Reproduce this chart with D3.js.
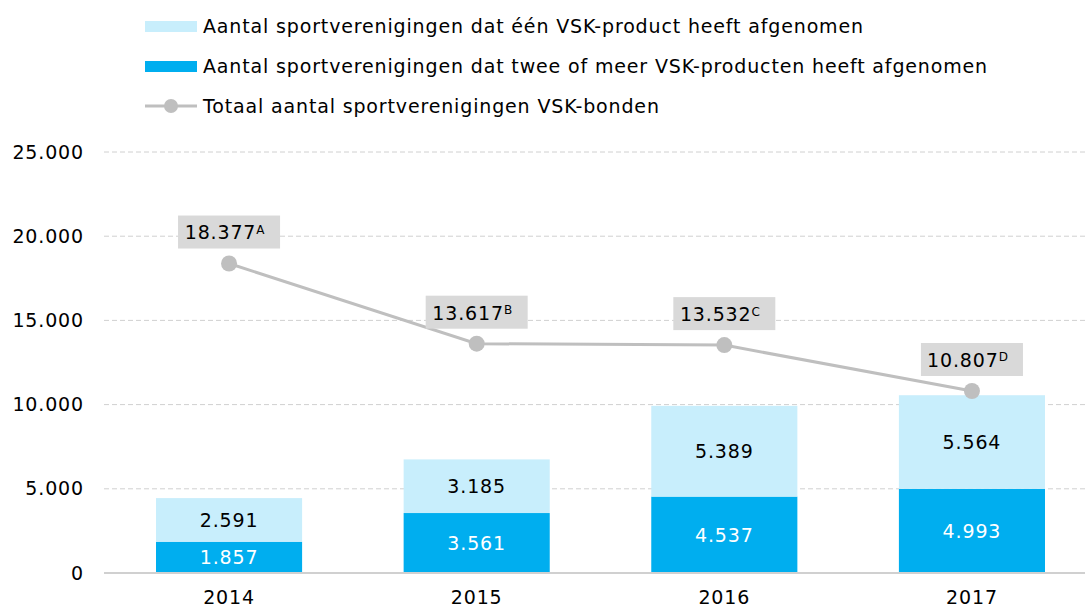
<!DOCTYPE html>
<html>
<head>
<meta charset="utf-8">
<script src="https://cdn.jsdelivr.net/npm/d3@7"></script>
<style>
  body { margin: 0; background: #fff; }
  text { font-family: "DejaVu Sans", sans-serif; letter-spacing: 0.85px; }
</style>
</head>
<body>
<div id="chart"></div>
<script>
var years = ["2014", "2015", "2016", "2017"];
var twoOrMore = [1857, 3561, 4537, 4993];
var oneProduct = [2591, 3185, 5389, 5564];
var totalBonds = [18377, 13617, 13532, 10807];
var totalNotes = ["A", "B", "C", "D"];
var yTicks = [0, 5000, 10000, 15000, 20000, 25000];
var legendLabels = [
  "Aantal sportverenigingen dat één VSK-product heeft afgenomen",
  "Aantal sportverenigingen dat twee of meer VSK-producten heeft afgenomen",
  "Totaal aantal sportverenigingen VSK-bonden"
];

var svgWidth = 1085;
var svgHeight = 609;
var margin = { top: 152, right: 0, bottom: 36, left: 104 };
var width = svgWidth - margin.left - margin.right;
var height = svgHeight - margin.top - margin.bottom;

var lightBlue = "#c8eefc";
var darkBlue = "#00aeef";
var grey = "#bfbfbf";

var fmt = d3.formatLocale({ decimal: ",", thousands: ".", grouping: [3], currency: ["", ""] }).format(",d");

var svg = d3.select("#chart").append("svg")
  .attr("width", svgWidth)
  .attr("height", svgHeight);

var chartGroup = svg.append("g")
  .attr("transform", `translate(${margin.left}, ${margin.top})`);

var x = d3.scaleBand()
  .domain(years)
  .range([0, 993])
  .paddingInner(0.41)
  .paddingOuter(0.21);

var y = d3.scaleLinear()
  .domain([0, 25000])
  .range([height, 0]);

// gridlines
chartGroup.selectAll(".grid")
  .data(yTicks.filter(d => d > 0))
  .enter()
  .append("line")
  .attr("x1", 0)
  .attr("x2", width)
  .attr("y1", d => y(d))
  .attr("y2", d => y(d))
  .attr("stroke", "#d0d0d0")
  .attr("stroke-width", 1)
  .attr("stroke-dasharray", "5,3");

// y axis labels
var leftAxis = d3.axisLeft(y).tickValues(yTicks).tickFormat(fmt).tickSize(0).tickPadding(20);
var yAxis = chartGroup.append("g").call(leftAxis);
yAxis.select(".domain").remove();
yAxis.selectAll("text")
  .style("font-size", "19px")
  .attr("fill", "#000")
  .attr("font-family", "DejaVu Sans");

// bars
var bars = years.map((yr, i) => ({ year: yr, low: twoOrMore[i], high: oneProduct[i] }));

chartGroup.selectAll(".barLow")
  .data(bars)
  .enter()
  .append("rect")
  .attr("x", d => x(d.year))
  .attr("width", x.bandwidth())
  .attr("y", d => y(d.low))
  .attr("height", d => y(0) - y(d.low))
  .attr("fill", darkBlue);

chartGroup.selectAll(".barHigh")
  .data(bars)
  .enter()
  .append("rect")
  .attr("x", d => x(d.year))
  .attr("width", x.bandwidth())
  .attr("y", d => y(d.low + d.high))
  .attr("height", d => y(d.low) - y(d.low + d.high))
  .attr("fill", lightBlue);

// baseline
chartGroup.append("line")
  .attr("x1", 0)
  .attr("x2", width)
  .attr("y1", y(0))
  .attr("y2", y(0))
  .attr("stroke", "#d0d0d0")
  .attr("stroke-width", 2);

// bar value labels
chartGroup.selectAll(".lowLabel")
  .data(bars)
  .enter()
  .append("text")
  .attr("x", d => x(d.year) + x.bandwidth() / 2)
  .attr("y", d => (y(0) + y(d.low)) / 2)
  .attr("dy", "0.36em")
  .attr("text-anchor", "middle")
  .style("font-size", "19px")
  .attr("fill", "#fff")
  .text(d => fmt(d.low));

chartGroup.selectAll(".highLabel")
  .data(bars)
  .enter()
  .append("text")
  .attr("x", d => x(d.year) + x.bandwidth() / 2)
  .attr("y", d => (y(d.low) + y(d.low + d.high)) / 2)
  .attr("dy", "0.36em")
  .attr("text-anchor", "middle")
  .style("font-size", "19px")
  .attr("fill", "#000")
  .text(d => fmt(d.high));

// x axis labels
chartGroup.selectAll(".xLabel")
  .data(years)
  .enter()
  .append("text")
  .attr("x", d => x(d) + x.bandwidth() / 2)
  .attr("y", height + 31)
  .attr("text-anchor", "middle")
  .style("font-size", "19px")
  .attr("fill", "#000")
  .text(d => d);

// total line
var line = d3.line()
  .x((d, i) => x(years[i]) + x.bandwidth() / 2)
  .y(d => y(d));

chartGroup.append("path")
  .datum(totalBonds)
  .attr("d", line)
  .attr("fill", "none")
  .attr("stroke", grey)
  .attr("stroke-width", 3);

chartGroup.selectAll(".dot")
  .data(totalBonds)
  .enter()
  .append("circle")
  .attr("cx", (d, i) => x(years[i]) + x.bandwidth() / 2)
  .attr("cy", d => y(d))
  .attr("r", 8)
  .attr("fill", grey);

// total labels with grey boxes
var totalLabels = chartGroup.selectAll(".totalLabel")
  .data(totalBonds)
  .enter()
  .append("g")
  .attr("transform", (d, i) => `translate(${x(years[i]) + x.bandwidth() / 2}, ${y(d) - 31})`);

totalLabels.append("rect")
  .attr("x", -51)
  .attr("y", -17)
  .attr("width", 102)
  .attr("height", 33)
  .attr("fill", "#d9d9d9");

var tl = totalLabels.append("text")
  .attr("x", -4)
  .attr("dy", "0.36em")
  .attr("text-anchor", "middle")
  .style("font-size", "19px")
  .attr("fill", "#000");
tl.append("tspan").text(d => fmt(d));
tl.append("tspan")
  .attr("dy", "-0.45em")
  .style("font-size", "12px")
  .text((d, i) => totalNotes[i]);

// legend
var legend = svg.append("g").attr("transform", "translate(145, 0)");

legend.append("rect")
  .attr("x", 0).attr("y", 21).attr("width", 52).attr("height", 11)
  .attr("fill", lightBlue);
legend.append("rect")
  .attr("x", 0).attr("y", 61).attr("width", 52).attr("height", 11)
  .attr("fill", darkBlue);
legend.append("line")
  .attr("x1", 0).attr("x2", 52).attr("y1", 106).attr("y2", 106)
  .attr("stroke", grey).attr("stroke-width", 3);
legend.append("circle")
  .attr("cx", 26).attr("cy", 106).attr("r", 7)
  .attr("fill", grey);

legend.selectAll(".legendText")
  .data(legendLabels)
  .enter()
  .append("text")
  .attr("x", 58)
  .attr("y", (d, i) => 26 + i * 40)
  .attr("dy", "0.36em")
  .style("font-size", "19px")
  .attr("fill", "#000")
  .text(d => d);
</script>
</body>
</html>
